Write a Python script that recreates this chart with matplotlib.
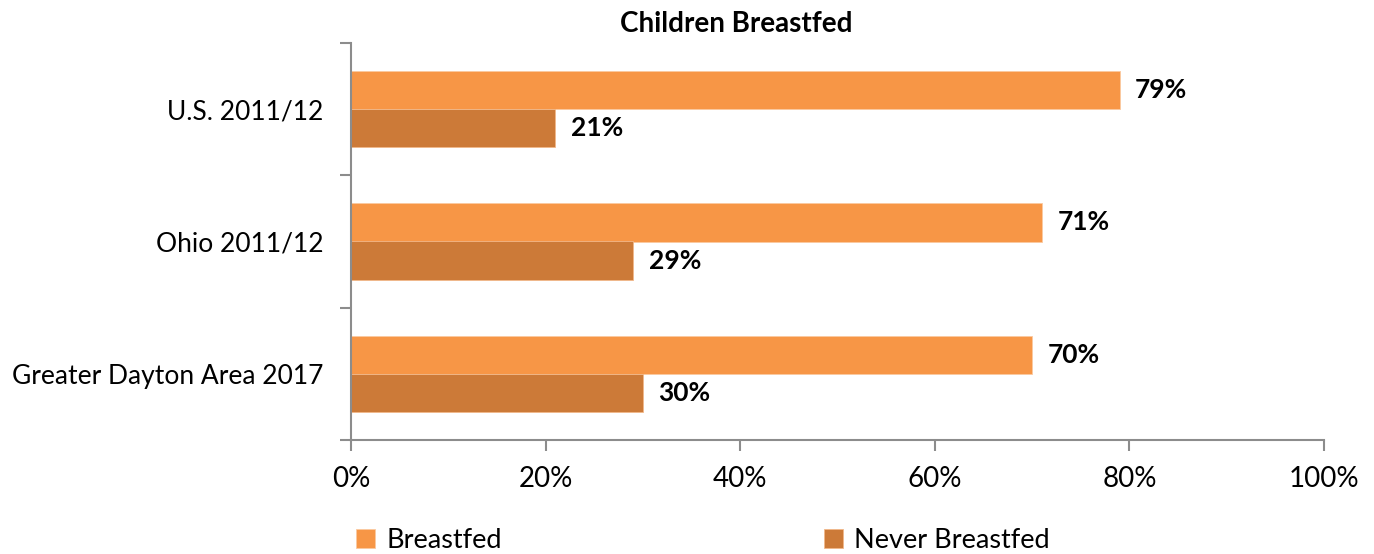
import numpy as np
import matplotlib.pyplot as plt

plt.rcParams['font.family'] = ['Lato', 'DejaVu Sans']

categories = ['Greater Dayton Area 2017', 'Ohio 2011/12', 'U.S. 2011/12']
breastfed = [70, 71, 79]
never_breastfed = [30, 29, 21]
xticks = [0, 20, 40, 60, 80, 100]

c_bf = '#F79646'
c_never = '#CC7A38'

fig = plt.figure(figsize=(13.74, 5.54), dpi=100)
ax = fig.add_axes([351/1374, 1-440/554, (1324-351)/1374, (440-43)/554])

y = np.arange(len(categories))
h = 0.288
ax.barh(y + h/2, breastfed, height=h, color=c_bf, edgecolor='#FBC9A0', linewidth=0.6, label='Breastfed')
ax.barh(y - h/2, never_breastfed, height=h, color=c_never, edgecolor='#F2B88A', linewidth=0.6, label='Never Breastfed')

for yi, v in zip(y, breastfed):
    ax.text(v + 1.6, yi + h/2, f'{v}%', va='center', ha='left', fontsize=19, fontweight='bold')
for yi, v in zip(y, never_breastfed):
    ax.text(v + 1.6, yi - h/2, f'{v}%', va='center', ha='left', fontsize=19, fontweight='bold')

ax.set_xlim(0, 100)
ax.set_ylim(-0.5, len(categories) - 0.5)
ax.set_xticks(xticks)
ax.set_xticklabels([f'{t}%' for t in xticks], fontsize=20)
ax.set_yticks(np.arange(-0.5, len(categories), 1.0))
ax.set_yticklabels([])
ax.set_yticks(y, minor=True)
ax.set_yticklabels(categories, minor=True, fontsize=19)
ax.tick_params(axis='y', which='minor', length=0, pad=20)
ax.tick_params(axis='both', which='major', length=8, width=1.5, color='#8C8C8C', pad=11)

for s in ['top', 'right']:
    ax.spines[s].set_visible(False)
for s in ['left', 'bottom']:
    ax.spines[s].set_color('#8C8C8C')
    ax.spines[s].set_linewidth(1.5)

fig.text(736/1374, 1-24/554, 'Children Breastfed', ha='center', va='center', fontsize=20, fontweight='bold')

fig.legend(loc='center', bbox_to_anchor=(703/1374, 1-540/554), ncol=2, frameon=False,
           fontsize=19.5, handlelength=0.7, handleheight=0.7, handletextpad=0.4, columnspacing=11.9)

fig.savefig('out.png', dpi=100)
